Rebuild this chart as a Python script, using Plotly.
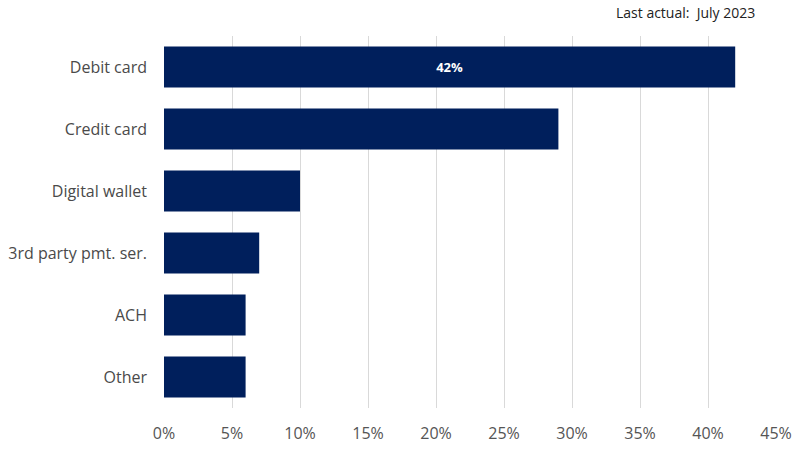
import plotly.graph_objects as go

categories = ["Debit card", "Credit card", "Digital wallet", "3rd party pmt. ser.", "ACH", "Other"]
values = [42, 29, 10, 7, 6, 6]
bar_labels = ["42%", "", "", "", "", ""]
x_ticks = [0, 5, 10, 15, 20, 25, 30, 35, 40, 45]
x_tick_labels = [f"{t}%" for t in x_ticks]

fig = go.Figure(go.Bar(
    y=categories, x=values, orientation="h",
    marker=dict(color="#001f5c", line=dict(width=0)),
    width=0.66,
    text=bar_labels, textposition="inside", insidetextanchor="middle",
    textfont=dict(color="white", size=13, family="Open Sans", weight="bold"),
    hoverinfo="skip",
))

fig.update_layout(
    width=800, height=450,
    margin=dict(l=164, r=24, t=36, b=42, autoexpand=False),
    paper_bgcolor="white", plot_bgcolor="white",
    font=dict(family="Open Sans", color="#4a4a4a"),
    showlegend=False,
    annotations=[dict(
        text="Last actual:  July 2023", xref="paper", yref="paper",
        x=(757 - 164) / (776 - 164), y=1, xanchor="right", yanchor="bottom",
        yshift=12, showarrow=False, font=dict(size=14, color="#222222", family="Open Sans"),
    )],
)
fig.update_xaxes(
    range=[0, 45], tickvals=x_ticks, ticktext=x_tick_labels,
    showgrid=True, gridcolor="#d9d9d9", gridwidth=1, automargin=False,
    zeroline=False, showline=False, ticks="",
    tickfont=dict(size=16, color="#555555"), ticklabelstandoff=14,
)
fig.update_yaxes(
    categoryorder="array", categoryarray=categories, autorange=False,
    range=[5.5, -0.5], showgrid=False, zeroline=False, showline=False, ticks="",
    automargin=False,
    tickfont=dict(size=16, color="#4a4a4a"), ticklabelstandoff=16,
)

fig.write_html(
    "out.html",
    config={"displayModeBar": False},
    post_script="document.body.style.margin='0';document.body.style.overflow='hidden';",
)
